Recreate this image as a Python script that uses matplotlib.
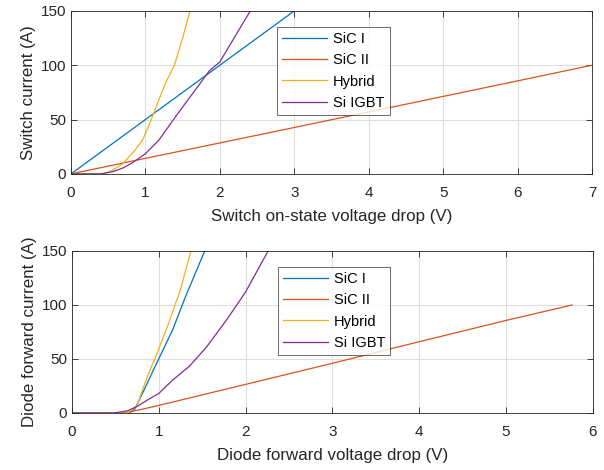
import matplotlib
matplotlib.use('Agg')
import matplotlib.pyplot as plt

plt.rcParams['font.family'] = ['Liberation Sans', 'DejaVu Sans']

labels = ['SiC I', 'SiC II', 'Hybrid', 'Si IGBT']
colors = ['#0072BD', '#D95319', '#EDB120', '#7E2F8E']

# switch on-state curves (V, A)
sw_sic1_v = [0, 3.0]
sw_sic1_i = [0, 150]
sw_sic2_v = [0, 1, 2, 3, 4, 5, 6, 7]
sw_sic2_i = [0, 14.3, 28.5, 42.7, 57, 71.3, 85.6, 100]
sw_hyb_v = [0, 0.43, 0.55, 0.69, 0.85, 0.96, 1.05, 1.18, 1.28, 1.39, 1.5, 1.6]
sw_hyb_i = [0, 0, 3, 9, 21, 31, 45, 68, 85, 100, 125, 150]
sw_igbt_v = [0, 0.4, 0.56, 0.7, 0.82, 1.0, 1.18, 1.44, 1.7, 1.86, 2.0, 2.2, 2.41]
sw_igbt_i = [0, 0, 2, 5.5, 10, 18.5, 31, 56, 80, 95, 103, 126, 150]

# diode forward curves (V, A)
d_sic1_v = [0, 0.66, 0.72, 0.83, 0.94, 1.0, 1.16, 1.31, 1.42, 1.53]
d_sic1_i = [0, 0, 3, 21, 40, 50, 77, 108, 129, 150]
d_sic2_v = [0, 0.58, 0.7, 1.0, 2.0, 3.0, 4.0, 5.0, 5.76]
d_sic2_i = [0, 0, 1.5, 7, 26.5, 46, 66, 85.7, 100]
d_hyb_v = [0, 0.64, 0.75, 0.87, 0.98, 1.1, 1.25, 1.37]
d_hyb_i = [0, 0, 7, 34, 55, 80, 114, 150]
d_igbt_v = [0, 0.48, 0.64, 0.75, 0.87, 1.0, 1.16, 1.35, 1.55, 1.78, 2.0, 2.26]
d_igbt_i = [0, 0, 2, 6, 12, 18, 30.5, 43, 61, 86, 112, 150]

fig = plt.figure(figsize=(6.04, 4.70), dpi=100)
ax1 = fig.add_axes([0.1175, 0.630, 0.8626, 0.3468])
ax2 = fig.add_axes([0.1190, 0.1213, 0.8626, 0.3447])

top = [(sw_sic1_v, sw_sic1_i), (sw_sic2_v, sw_sic2_i), (sw_hyb_v, sw_hyb_i), (sw_igbt_v, sw_igbt_i)]
bot = [(d_sic1_v, d_sic1_i), (d_sic2_v, d_sic2_i), (d_hyb_v, d_hyb_i), (d_igbt_v, d_igbt_i)]

edge = '#262626'
for ax, data, xmax, xlabel, ylabel in [
        (ax1, top, 7, 'Switch on-state voltage drop (V)', 'Switch current (A)'),
        (ax2, bot, 6, 'Diode forward voltage drop (V)', 'Diode forward current (A)')]:
    for (v, i), c, lab in zip(data, colors, labels):
        ax.plot(v, i, color=c, linewidth=0.9, label=lab)
    ax.set_xlim(0, xmax)
    ax.set_ylim(0, 150)
    ax.set_xticks(range(0, xmax + 1))
    ax.set_yticks([0, 50, 100, 150])
    ax.grid(True, color='#dfdfdf', linewidth=0.8)
    ax.set_axisbelow(True)
    ax.tick_params(direction='in', length=4, width=0.6, colors=edge, labelsize=11,
                   top=True, right=True, labelcolor=edge)
    ax.tick_params(axis='x', pad=9)
    for s in ax.spines.values():
        s.set_color(edge)
        s.set_linewidth(0.6)
    ax.set_xlabel(xlabel, fontsize=12.2, color=edge, labelpad=6)
    ax.set_ylabel(ylabel, fontsize=12.2, color=edge, labelpad=3)
    leg = ax.legend(loc='upper left', bbox_to_anchor=(0.395, 0.902), borderaxespad=0,
                    fontsize=10.5, frameon=True, fancybox=False, edgecolor=edge,
                    handlelength=3.1, handletextpad=0.4, labelspacing=0.5, borderpad=0.35)
    leg.get_frame().set_linewidth(0.6)

fig.savefig('out.png', dpi=100)
